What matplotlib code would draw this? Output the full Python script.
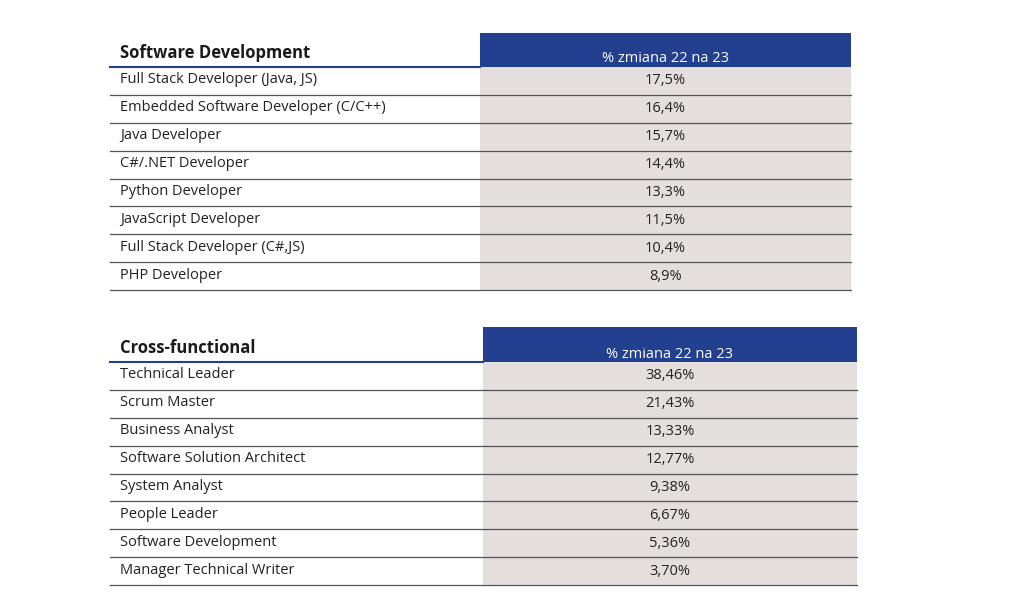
import matplotlib.pyplot as plt
from matplotlib.patches import Rectangle

plt.rcParams['font.family'] = ['Open Sans', 'DejaVu Sans']

header = "% zmiana 22 na 23"

sw_title = "Software Development"
sw_roles = ["Full Stack Developer (Java, JS)", "Embedded Software Developer (C/C++)",
            "Java Developer", "C#/.NET Developer", "Python Developer",
            "JavaScript Developer", "Full Stack Developer (C#,JS)", "PHP Developer"]
sw_values = ["17,5%", "16,4%", "15,7%", "14,4%", "13,3%", "11,5%", "10,4%", "8,9%"]

cf_title = "Cross-functional"
cf_roles = ["Technical Leader", "Scrum Master", "Business Analyst",
            "Software Solution Architect", "System Analyst", "People Leader",
            "Software Development", "Manager Technical Writer"]
cf_values = ["38,46%", "21,43%", "13,33%", "12,77%", "9,38%", "6,67%", "5,36%", "3,70%"]

BLUE = "#233f8f"
GRAY = "#e4dfdc"

fig = plt.figure(figsize=(10.24, 6.16), dpi=100)
ax = fig.add_axes([0, 0, 1, 1])
ax.set_xlim(0, 1024)
ax.set_ylim(616, 0)
ax.axis('off')


def draw_table(title, roles, values, x0, xs, xe, ytop, yh, yend):
    # header band
    ax.add_patch(Rectangle((xs, ytop), xe - xs, yh - ytop, color=BLUE, lw=0))
    ax.text(x0 + 10, yh - 14, title, fontsize=12, fontweight='bold', color='#1a1a1a', va='center')
    ax.text((xs + xe) / 2, yh - 8, header, fontsize=10.5, color='white', ha='center', va='center')
    ax.plot([x0, xs], [yh, yh], color=BLUE, lw=1.5)
    # value column
    ax.add_patch(Rectangle((xs, yh), xe - xs, yend - yh, color=GRAY, lw=0))
    rh = (yend - yh) / len(roles)
    for i, (r, v) in enumerate(zip(roles, values)):
        yc = yh + rh * (i + 0.5)
        ax.text(x0 + 10, yc - 1, r, fontsize=10.5, color='#222222', va='center')
        ax.text((xs + xe) / 2, yc, v, fontsize=10.5, color='#222222', ha='center', va='center')
        ax.plot([x0, xe], [yh + rh * (i + 1)] * 2, color='#555555', lw=0.9)


draw_table(sw_title, sw_roles, sw_values, 110, 480, 851, 33, 67, 290)
draw_table(cf_title, cf_roles, cf_values, 110, 483, 857, 327, 362, 585)

fig.savefig("out.png", dpi=100, facecolor='white')
